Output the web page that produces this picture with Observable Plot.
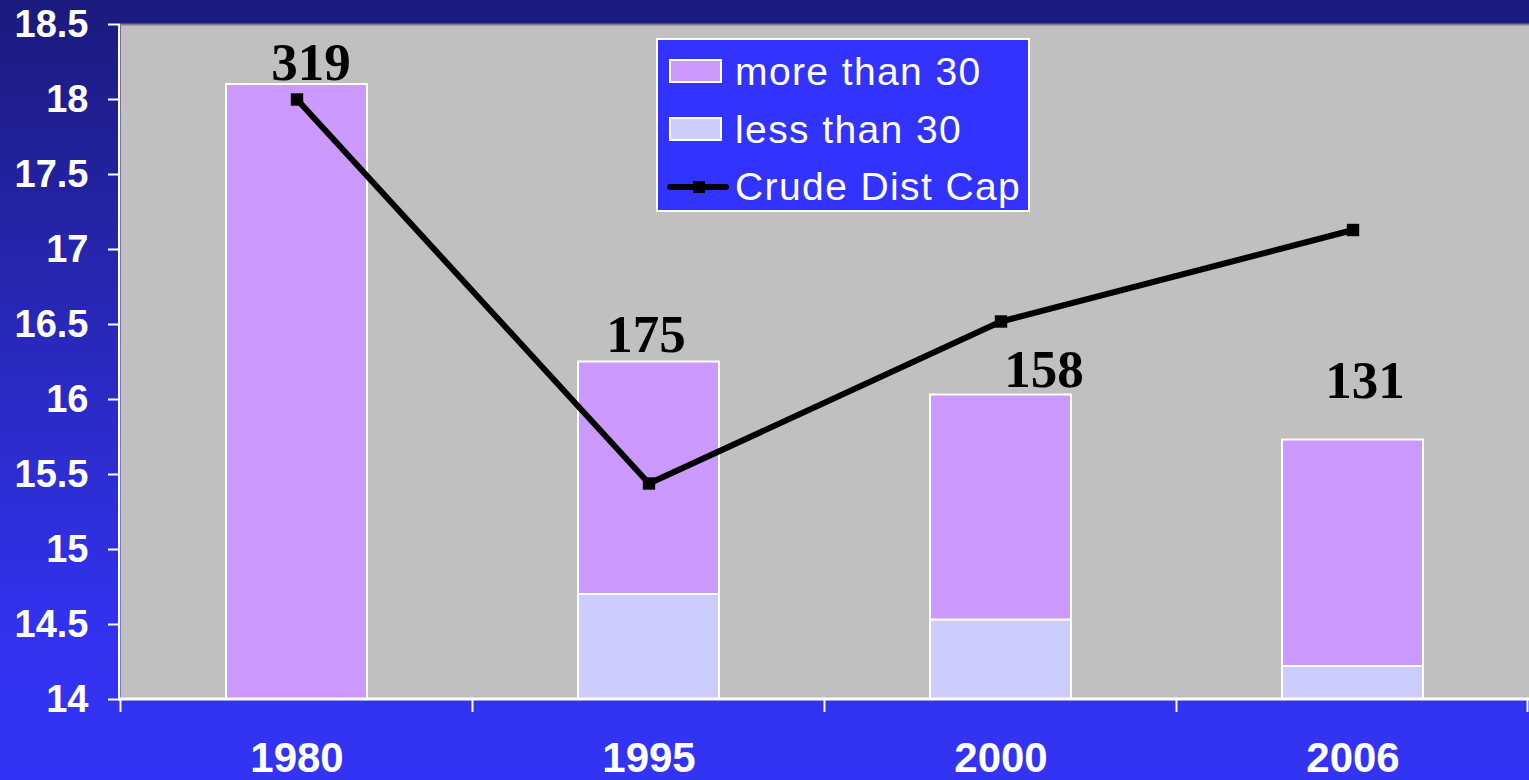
<!DOCTYPE html>
<html>
<head>
<meta charset="utf-8">
<script src="https://cdn.jsdelivr.net/npm/d3@7"></script>
<script src="https://cdn.jsdelivr.net/npm/@observablehq/plot@0.6"></script>
<style>
  html, body { margin: 0; padding: 0; }
  body { width: 1529px; height: 780px; overflow: hidden; }
  #wrap { position: relative; width: 1529px; height: 780px; }
  #legend {
    position: absolute; left: 656px; top: 38px; width: 370px; height: 170px;
    background: #3333FF; border: 2px solid #ffffff;
    font-family: "Liberation Sans", Arial, sans-serif; font-size: 39px; color: #ffffff;
    letter-spacing: 1.4px;
  }
  .row { position: absolute; left: 0; height: 40px; display: flex; align-items: center; }
  .sw { position: absolute; left: 11px; width: 49px; height: 20px; border: 2px solid #ffffff; }
  .lbl { position: absolute; left: 77px; white-space: nowrap; line-height: 40px; }
</style>
</head>
<body>
<div id="wrap"></div>
<script>
// ---- data ----
const years = ["1980", "1995", "2000", "2006"];
const lessThan30 = [0, 14.70, 14.53, 14.22];
const moreThan30 = [18.10, 1.55, 1.50, 1.51];
const crudeDistCap = [18.00, 15.44, 16.52, 17.13];
const barLabels = ["319", "175", "158", "131"];
const yTicks = [14, 14.5, 15, 15.5, 16, 16.5, 17, 17.5, 18, 18.5];
const seriesNames = ["less than 30", "more than 30"];
const seriesColors = ["#CCCCFF", "#CC99FF"];

const barRows = [];
years.forEach((yr, i) => {
  barRows.push({year: yr, series: seriesNames[0], value: lessThan30[i]});
  barRows.push({year: yr, series: seriesNames[1], value: moreThan30[i]});
});
const lineRows = years.map((yr, i) => ({year: yr, value: crudeDistCap[i]}));
const labelRows = years.map((yr, i) => ({year: yr, total: lessThan30[i] + moreThan30[i], label: barLabels[i]}));

// axis lines + tick marks at the band boundaries of the x axis
function axisLines(index, scales, values, dimensions) {
  const x = scales.x;
  const bw = typeof x.bandwidth === "function" ? x.bandwidth() : 0;
  const step = typeof x.step === "function" ? x.step() : bw;
  const pos = years.map(d => x(d) + bw / 2 - step / 2);
  pos.push(x(years[years.length - 1]) + bw / 2 + step / 2 - 1);
  const y0 = dimensions.height - dimensions.marginBottom;
  const g = d3.create("svg:g");
  g.selectAll("line.t").data(pos).join("line")
    .attr("class", "t")
    .attr("x1", d => d).attr("x2", d => d)
    .attr("y1", y0).attr("y2", y0 + 13)
    .attr("stroke", "#ffffff").attr("stroke-width", 2);
  g.append("line")
    .attr("x1", dimensions.marginLeft - 1).attr("x2", dimensions.marginLeft - 1)
    .attr("y1", dimensions.marginTop).attr("y2", y0 + 1)
    .attr("stroke", "#ffffff").attr("stroke-width", 2);
  g.append("line")
    .attr("x1", dimensions.marginLeft - 2).attr("x2", dimensions.width)
    .attr("y1", y0).attr("y2", y0)
    .attr("stroke", "#ffffff").attr("stroke-width", 3);
  return g.node();
}

const labelOffsets = [[14, -5], [-3, -10], [43, -8], [12, -42]];
const labelMarks = labelRows.map((r, i) => Plot.text([r], {
  x: "year", y: "total", text: "label",
  dx: labelOffsets[i][0], dy: labelOffsets[i][1],
  lineAnchor: "bottom",
  fontFamily: "'Liberation Serif', 'Times New Roman', serif",
  fontWeight: "bold", fontSize: 53, fill: "#000000"
}));

const chart = Plot.plot({
  width: 1529,
  height: 780,
  marginLeft: 120,
  marginRight: 0,
  marginTop: 24,
  marginBottom: 81,
  style: {
    background: "linear-gradient(to bottom, #1a1a7e 0%, #2626b0 35%, #3232ee 80%, #3333f5 100%)",
    fontFamily: "'Liberation Sans', Arial, sans-serif",
    overflow: "visible"
  },
  x: {type: "band", domain: years, paddingInner: 0.6, paddingOuter: 0.3, align: 0.5},
  y: {domain: [14, 18.5]},
  color: {domain: seriesNames, range: seriesColors},
  marks: [
    Plot.frame({fill: "#C0C0C0", stroke: null}),
    Plot.barY(barRows, {
      x: "year", y: "value", fill: "series",
      order: seriesNames,
      stroke: "#ffffff", strokeWidth: 2, clip: true
    }),
    Plot.ruleY([18.5], {stroke: "#808080", strokeWidth: 2}),
    Plot.line(lineRows, {x: "year", y: "value", stroke: "#000000", strokeWidth: 6}),
    Plot.dot(lineRows, {x: "year", y: "value", symbol: "square", r: 7, fill: "#000000", stroke: null}),
    ...labelMarks,
    Plot.axisY({
      ticks: yTicks, tickSize: 12, tickPadding: 20, stroke: "#ffffff", strokeWidth: 2,
      tickFormat: d => String(d),
      fill: "#ffffff", fontSize: 38, fontWeight: "bold", label: null
    }),
    Plot.axisX({
      tickSize: 0, tickPadding: 43, fill: "#ffffff", fontSize: 42, fontWeight: "bold", label: null
    }),
    axisLines
  ]
});

const wrap = document.getElementById("wrap");
wrap.appendChild(chart);

// legend overlay
const legend = document.createElement("div");
legend.id = "legend";
const items = [
  {name: "more than 30", color: seriesColors[1], kind: "bar"},
  {name: "less than 30", color: seriesColors[0], kind: "bar"},
  {name: "Crude Dist Cap", color: "#000000", kind: "line"}
];
const rowTops = [12, 70, 127];
items.forEach((it, i) => {
  const row = document.createElement("div");
  row.className = "row";
  row.style.top = rowTops[i] + "px";
  row.style.width = "100%";
  if (it.kind === "bar") {
    const sw = document.createElement("div");
    sw.className = "sw";
    sw.style.background = it.color;
    sw.style.top = "7px";
    row.appendChild(sw);
  } else {
    const svg = d3.create("svg").attr("width", 64).attr("height", 40)
      .style("position", "absolute").style("left", "8px").style("top", "0px");
    svg.append("line").attr("x1", 4).attr("x2", 60).attr("y1", 20).attr("y2", 20)
      .attr("stroke", "#000").attr("stroke-width", 6).attr("stroke-linecap", "round");
    svg.append("rect").attr("x", 27).attr("y", 14).attr("width", 12).attr("height", 12).attr("fill", "#000");
    row.appendChild(svg.node());
  }
  const lbl = document.createElement("div");
  lbl.className = "lbl";
  lbl.textContent = it.name;
  row.appendChild(lbl);
  legend.appendChild(row);
});
wrap.appendChild(legend);
</script>
</body>
</html>
